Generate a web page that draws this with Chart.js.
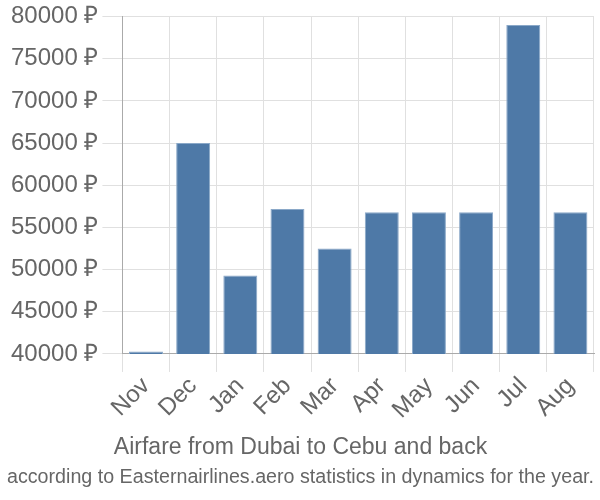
<!DOCTYPE html>
<html>
<head>
<meta charset="utf-8">
<script src="https://cdn.jsdelivr.net/npm/chart.js@4/dist/chart.umd.min.js"></script>
<style>
  html, body { margin: 0; padding: 0; background: #fff; }
  #wrap { width: 600px; height: 500px; }
</style>
</head>
<body>
<div id="wrap"><canvas id="fareChart" width="600" height="500"></canvas></div>
<script>
// months
var months = ["Nov", "Dec", "Jan", "Feb", "Mar", "Apr", "May", "Jun", "Jul", "Aug"];

// price in rubles
var prices = [40300, 65000, 49300, 57200, 52500, 56800, 56800, 56800, 79000, 56800];

// y ticks
var yMin = 40000;
var yMax = 80000;
var yStep = 5000;

var titleText = "Airfare from Dubai to Cebu and back";
var subText = "according to Easternairlines.aero statistics in dynamics for the year.";

var ctx = document.getElementById("fareChart").getContext("2d");
new Chart(ctx, {
  type: "bar",
  data: {
    labels: months,
    datasets: [
      {
        label: "Price",
        data: prices,
        backgroundColor: "#4e79a7",
        borderColor: "#8aa8c8",
        borderWidth: 1,
      },
    ],
  },
  options: {
    responsive: false,
    animation: false,
    layout: { padding: { top: 0, right: 6, left: 7, bottom: 0 } },
    plugins: {
      legend: { display: false },
      tooltip: { enabled: false },
      title: {
        display: true,
        text: titleText,
        position: "bottom",
        weight: 1000,
        color: "#666",
        font: { family: "Liberation Sans, Arial", size: 23, weight: "normal" },
        padding: { top: 9, bottom: 2 },
      },
      subtitle: {
        display: true,
        text: subText,
        position: "bottom",
        weight: 1500,
        color: "#666",
        font: { family: "Liberation Sans, Arial", size: 20, weight: "normal" },
        padding: { top: 2, bottom: 11 },
      },
    },
    scales: {
      x: {
        grid: { color: "#e0e0e0", tickLength: 18, offset: true },
        border: { color: "#aaa" },
        ticks: {
          color: "#666",
          font: { family: "Liberation Sans, Arial", size: 24 },
          maxRotation: 45,
          minRotation: 45,
          padding: 0,
        },
      },
      y: {
        min: yMin,
        max: yMax,
        grid: { color: "#e0e0e0", tickLength: 20 },
        border: { color: "#aaa" },
        ticks: {
          stepSize: yStep,
          color: "#666",
          padding: 4,
          font: { family: "Liberation Sans, Arial", size: 24, lineHeight: 1.05 },
          callback: function (v) {
            return v + " ₽";
          },
        },
      },
    },
  },
});
</script>
</body>
</html>
